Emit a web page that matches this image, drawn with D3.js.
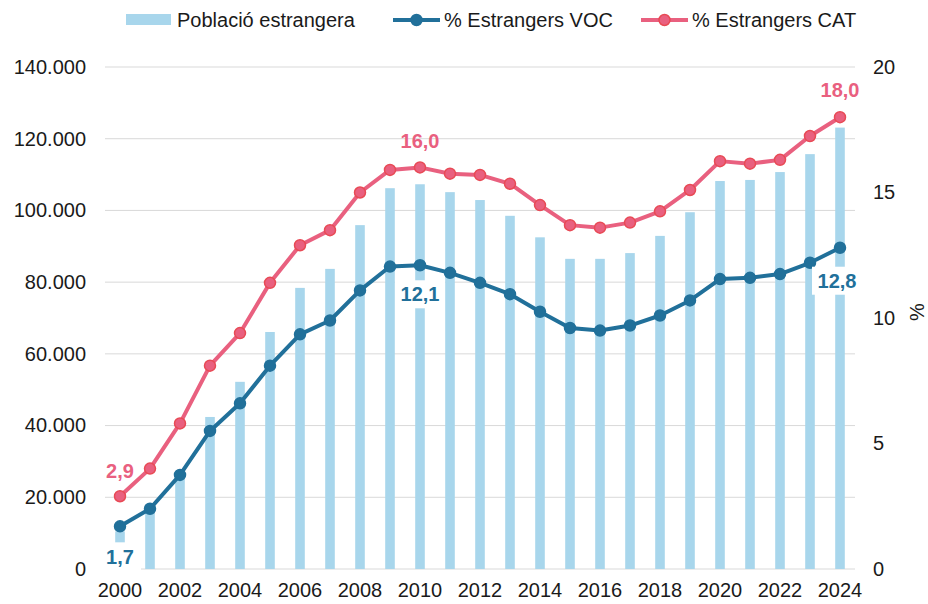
<!DOCTYPE html>
<html>
<head>
<meta charset="utf-8">
<script src="https://cdn.jsdelivr.net/npm/d3@7"></script>
<style>
  body { margin: 0; background: #fff; }
  svg { font-family: "Liberation Sans", Arial, sans-serif; }
</style>
</head>
<body>
<script>
const years = d3.range(2000, 2025);
const poblacio = [10500, 16700, 25500, 42400, 52200, 66100, 78400, 83700, 95900, 106200,
  107300, 105100, 102900, 98500, 92500, 86500, 86500, 88100, 92900, 99500,
  108200, 108500, 110700, 115700, 123100];
const pctVOC = [1.7, 2.4, 3.75, 5.5, 6.6, 8.1, 9.35, 9.9, 11.1, 12.05,
  12.1, 11.8, 11.4, 10.95, 10.25, 9.6, 9.5, 9.7, 10.1, 10.7,
  11.55, 11.6, 11.75, 12.2, 12.8];
const pctCAT = [2.9, 4.0, 5.8, 8.1, 9.4, 11.4, 12.9, 13.5, 15.0, 15.9,
  16.0, 15.75, 15.7, 15.35, 14.5, 13.7, 13.6, 13.8, 14.25, 15.1,
  16.25, 16.15, 16.3, 17.25, 18.0];
const leftTicks = [0, 20000, 40000, 60000, 80000, 100000, 120000, 140000];
const rightTicks = [0, 5, 10, 15, 20];
const xTicks = d3.range(2000, 2025, 2);

const width = 928, height = 604;
const plot = {left: 105, right: 855, top: 67, bottom: 569};
const colBar = "#a8d6ec", colVOC = "#21709a", colCAT = "#e9607f", colCATStroke = "#e84a55";

const svg = d3.select("body").append("svg")
  .attr("width", width).attr("height", height);

const x = d3.scaleBand().domain(years).range([plot.left, plot.right]).paddingInner(0.68).paddingOuter(0.34);
const cx = d => x(d) + x.bandwidth() / 2;
const yL = d3.scaleLinear().domain([0, 140000]).range([plot.bottom, plot.top]);
const yR = d3.scaleLinear().domain([0, 20]).range([plot.bottom, plot.top]);
const fmtL = d => d3.format(",")(d).replace(/,/g, ".");
const fmtP = d => d3.format(".1f")(d).replace(".", ",");

// gridlines
svg.append("g")
  .selectAll("line")
  .data(leftTicks)
  .join("line")
  .attr("x1", plot.left).attr("x2", plot.right)
  .attr("y1", d => yL(d)).attr("y2", d => yL(d))
  .attr("stroke", "#d9d9d9").attr("stroke-width", 1);

// left axis
const axL = svg.append("g")
  .attr("transform", `translate(${plot.left - 19},0)`)
  .call(d3.axisLeft(yL).tickValues(leftTicks).tickFormat(fmtL).tickSize(0).tickPadding(0));
axL.select(".domain").remove();
axL.selectAll("text").attr("font-size", 20).attr("fill", "#1a1a1a").attr("font-family", "Liberation Sans, Arial, sans-serif");

// right axis
const axR = svg.append("g")
  .attr("transform", `translate(${plot.right + 18},0)`)
  .call(d3.axisRight(yR).tickValues(rightTicks).tickSize(0).tickPadding(0));
axR.select(".domain").remove();
axR.selectAll("text").attr("font-size", 20).attr("fill", "#1a1a1a").attr("font-family", "Liberation Sans, Arial, sans-serif");

svg.append("text")
  .attr("transform", `translate(917,${yR(10) - 6}) rotate(-90)`)
  .attr("text-anchor", "middle").attr("dy", "0.35em")
  .attr("font-size", 20).attr("fill", "#1a1a1a")
  .text("%");

// bottom axis
const axB = svg.append("g")
  .attr("transform", `translate(0,${plot.bottom + 14})`)
  .call(d3.axisBottom(x).tickValues(xTicks).tickSize(0).tickPadding(0));
axB.select(".domain").remove();
axB.selectAll("text").attr("font-size", 20).attr("fill", "#1a1a1a").attr("font-family", "Liberation Sans, Arial, sans-serif");

// bars
svg.append("g")
  .selectAll("rect")
  .data(years)
  .join("rect")
  .attr("x", d => x(d))
  .attr("width", x.bandwidth())
  .attr("y", (d, i) => yL(poblacio[i]))
  .attr("height", (d, i) => yL(0) - yL(poblacio[i]))
  .attr("fill", colBar);

// lines
const drawSeries = (vals, color, stroke) => {
  const line = d3.line().x((d, i) => cx(years[i])).y(d => yR(d));
  svg.append("path").datum(vals)
    .attr("d", line).attr("fill", "none")
    .attr("stroke", color).attr("stroke-width", 4).attr("stroke-linejoin", "round");
  svg.append("g").selectAll("circle")
    .data(vals).join("circle")
    .attr("cx", (d, i) => cx(years[i])).attr("cy", d => yR(d))
    .attr("r", 5.5)
    .attr("fill", color).attr("stroke", stroke).attr("stroke-width", 1.5);
};
drawSeries(pctCAT, colCAT, colCATStroke);
drawSeries(pctVOC, colVOC, colVOC);

// data labels
const labels = [
  {i: 0, vals: pctCAT, color: colCAT, dy: -25},
  {i: 10, vals: pctCAT, color: colCAT, dy: -26},
  {i: 24, vals: pctCAT, color: colCAT, dy: -27},
  {i: 0, vals: pctVOC, color: colVOC, dy: 31, box: [-20, 21, -15, 17]},
  {i: 10, vals: pctVOC, color: colVOC, dy: 29, box: [-25, 25, -14, 14]},
  {i: 24, vals: pctVOC, color: colVOC, dy: 33, dx: -3, box: [-25, 25, -14, 14]}
];
const gLab = svg.append("g");
labels.forEach(l => {
  const px = cx(years[l.i]) + (l.dx || 0);
  const py = yR(l.vals[l.i]) + l.dy;
  if (l.box) {
    gLab.append("rect")
      .attr("x", px + l.box[0]).attr("y", py + l.box[2])
      .attr("width", l.box[1] - l.box[0]).attr("height", l.box[3] - l.box[2])
      .attr("fill", "#fff");
  }
  gLab.append("text")
    .attr("x", px).attr("y", py)
    .attr("text-anchor", "middle").attr("dy", "0.35em")
    .attr("font-size", 20).attr("font-weight", "bold")
    .attr("fill", l.color)
    .text(fmtP(l.vals[l.i]));
});

// legend
const legend = svg.append("g").attr("id", "legend");
legend.append("rect")
  .attr("x", 126).attr("y", 14).attr("width", 45).attr("height", 11)
  .attr("fill", colBar);
legend.append("text").attr("x", 177).attr("y", 20).attr("dy", "0.35em")
  .attr("font-size", 20).attr("fill", "#1a1a1a").text("Població estrangera");

const legendLine = (x0, color, stroke, label) => {
  legend.append("line")
    .attr("x1", x0).attr("x2", x0 + 47).attr("y1", 20).attr("y2", 20)
    .attr("stroke", color).attr("stroke-width", 4);
  legend.append("circle")
    .attr("cx", x0 + 23.5).attr("cy", 20).attr("r", 5.5)
    .attr("fill", color).attr("stroke", stroke).attr("stroke-width", 1.5);
  legend.append("text").attr("x", x0 + 51).attr("y", 20).attr("dy", "0.35em")
    .attr("font-size", 20).attr("fill", "#1a1a1a").text(label);
};
legendLine(393, colVOC, colVOC, "% Estrangers VOC");
legendLine(641, colCAT, colCATStroke, "% Estrangers CAT");
</script>
</body>
</html>
